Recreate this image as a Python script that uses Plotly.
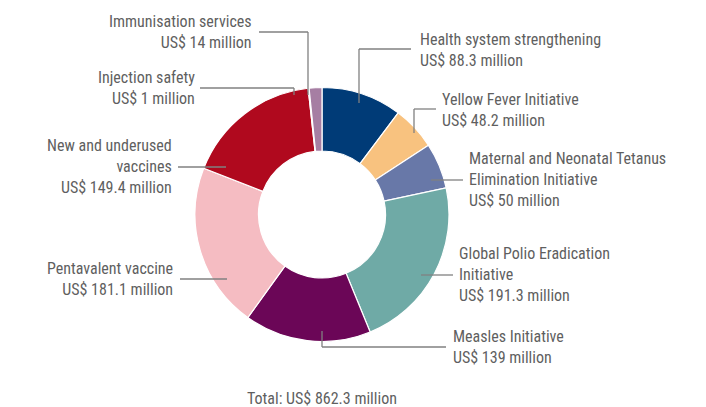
import plotly.graph_objects as go

# ---- data ----
categories = [
    "Health system strengthening",
    "Yellow Fever Initiative",
    "Maternal and Neonatal Tetanus Elimination Initiative",
    "Global Polio Eradication Initiative",
    "Measles Initiative",
    "Pentavalent vaccine",
    "New and underused vaccines",
    "Injection safety",
    "Immunisation services",
]
values = [88.3, 48.2, 50, 191.3, 139, 181.1, 149.4, 1, 14]
label_texts = [
    "Health system strengthening<br>US$ 88.3 million",
    "Yellow Fever Initiative<br>US$ 48.2 million",
    "Maternal and Neonatal Tetanus<br>Elimination Initiative<br>US$ 50 million",
    "Global Polio Eradication<br>Initiative<br>US$ 191.3 million",
    "Measles Initiative<br>US$ 139 million",
    "Pentavalent vaccine<br>US$ 181.1 million",
    "New and underused<br>vaccines<br>US$ 149.4 million",
    "Injection safety<br>US$ 1 million",
    "Immunisation services<br>US$ 14 million",
]
total_text = "Total: US$ 862.3 million"

# ---- styles / layout ----
colors = ["#003b77", "#f8c27f", "#6878a8", "#6faaa6", "#6b0657",
          "#f5bcc2", "#b0091e", "#c6d9a4", "#a67ea3"]
OFF = 8                      # page body margin
W, H = 706 - OFF, 407 - OFF
FONT = "Roboto Condensed, Liberation Sans, sans-serif"
FS = 16
TXT = "#5f5f5f"
LINE = "#808080"

# label placement (page pixels) : x, y, anchor side
label_pos = [
    (418, 50, "left"),
    (440, 109.5, "left"),
    (467, 179.5, "left"),
    (457, 274, "left"),
    (451, 347, "left"),
    (175, 278.5, "right"),
    (174, 166.5, "right"),
    (197, 87.5, "right"),
    (254, 31.5, "right"),
]
leaders = [
    [(411, 49), (359, 49), (359, 103)],
    [(436, 109), (414, 109), (414, 133)],
    [(463, 180), (431, 180)],
    [(453, 275), (421, 275)],
    [(446, 347), (322, 347), (322, 331)],
    [(180, 279), (227, 279)],
    [(178, 167), (226, 167)],
    [(200, 88), (294, 88), (294, 95)],
    [(259, 32), (308, 32), (308, 95)],
]

cx, cy, R = 322, 214.5, 127

def px(x):
    return (x - OFF) / W

def py(y):
    return 1 - (y - OFF) / H

fig = go.Figure(go.Pie(
    labels=categories,
    values=values,
    marker=dict(colors=colors, line=dict(color="white", width=1.2)),
    hole=0.5,
    sort=False,
    direction="clockwise",
    rotation=0,
    textinfo="none",
    showlegend=False,
    domain=dict(x=[px(cx - R), px(cx + R)], y=[py(cy + R), py(cy - R)]),
))

annotations = []
for txt, (x, y, side) in zip(label_texts, label_pos):
    annotations.append(dict(
        x=px(x), y=py(y), xref="paper", yref="paper",
        text=txt, showarrow=False,
        xanchor=side, yanchor="middle", align=side,
        font=dict(family=FONT, size=FS, color=TXT),
    ))
annotations.append(dict(
    x=px(322), y=py(398), xref="paper", yref="paper",
    text=total_text, showarrow=False, xanchor="center", yanchor="middle",
    font=dict(family=FONT, size=FS, color=TXT),
))

shapes = []
for pts in leaders:
    for (x0, y0), (x1, y1) in zip(pts[:-1], pts[1:]):
        shapes.append(dict(type="line", xref="paper", yref="paper",
                           x0=px(x0), y0=py(y0), x1=px(x1), y1=py(y1),
                           line=dict(color=LINE, width=1.3)))

fig.update_layout(
    width=W, height=H,
    margin=dict(l=0, r=0, t=0, b=0),
    paper_bgcolor="white", plot_bgcolor="white",
    annotations=annotations, shapes=shapes,
)

fig.write_html("out.html")
